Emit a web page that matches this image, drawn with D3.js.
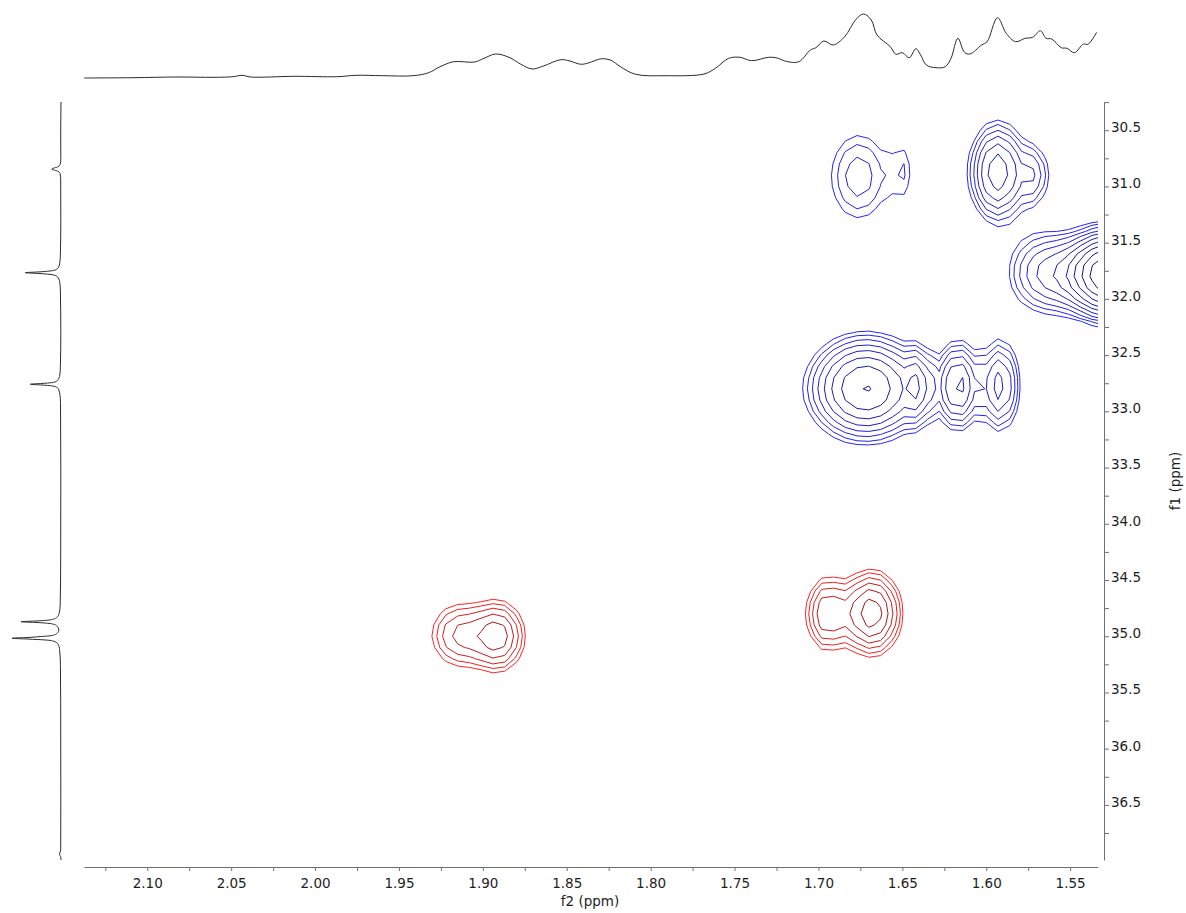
<!DOCTYPE html>
<html>
<head>
<meta charset="utf-8">
<script src="https://cdn.jsdelivr.net/npm/d3@7"></script>
<style>
  body { margin: 0; background: #fff; }
  svg { display: block; }
  text { font-family: "DejaVu Sans", Verdana, sans-serif; fill: #1e1e1e; }
</style>
</head>
<body>
<svg id="chart" width="1186" height="913"></svg>
<script>
// ---- 1H projection (f2 axis, top trace): chemical shift (ppm) and relative intensity
const topProjPpm = [2.1377, 2.1079, 2.0829, 2.0602, 2.0489, 2.0435, 2.0384, 2.0121, 1.9870, 1.9756,
  1.9597, 1.9415, 1.9323, 1.9255, 1.9175, 1.9049, 1.8993, 1.8924, 1.8844, 1.8776, 1.8707, 1.8639,
  1.8536, 1.8481, 1.8411, 1.8302, 1.8282, 1.8236, 1.8180, 1.8090, 1.7909, 1.7682, 1.7614, 1.7535,
  1.7468, 1.7399, 1.7297, 1.7253, 1.7183, 1.7116, 1.7048, 1.7015, 1.6968, 1.6912, 1.6844, 1.6776,
  1.6731, 1.6685, 1.6651, 1.6572, 1.6538, 1.6500, 1.6459, 1.6419, 1.6391, 1.6357, 1.6300, 1.6244,
  1.6210, 1.6169, 1.6130, 1.6097, 1.6028, 1.5995, 1.5933, 1.5881, 1.5825, 1.5768, 1.5723, 1.5677,
  1.5644, 1.5610, 1.5553, 1.5519, 1.5474, 1.5421, 1.5394, 1.5342];
const topProjInt = [0, 0.3, 1.0, 0.7, 1.3, 2.7, 1.0, 1.7, 1.3, 2.7,
  2.3, 2.3, 5.3, 11.3, 16.3, 16.0, 19.7, 24.0, 20.7, 14.0, 9.0, 12.0,
  18.3, 17.0, 13.7, 19.0, 19.3, 17.7, 11.3, 3.7, 2.3, 4.0, 9.7, 19.7,
  20.7, 17.3, 20.7, 20.3, 16.3, 16.3, 28.0, 30.3, 37.0, 33.0, 41.3, 58.7,
  64.0, 58.0, 43.0, 31.3, 23.7, 25.3, 20.3, 29.3, 23.0, 13.0, 10.3, 11.3,
  19.7, 39.7, 25.7, 24.0, 33.0, 36.3, 60.3, 44.7, 36.3, 39.7, 40.7, 47.3,
  39.7, 39.0, 30.3, 29.7, 25.3, 34.0, 33.7, 45.7];

// ---- 13C projection (f1 axis, left trace)
const sideProjPpm = [30.249, 30.50, 30.76, 30.80, 30.825, 30.845, 30.865, 30.89, 30.95, 31.30,
  31.60, 31.68, 31.72, 31.74, 31.752, 31.760, 31.767, 31.774, 31.782, 31.794, 31.815, 31.855, 31.93,
  32.30, 32.60, 32.67, 32.71, 32.733, 32.745, 32.752, 32.759, 32.766, 32.773, 32.785, 32.808, 32.85, 32.92,
  33.50, 34.30, 34.72, 34.80, 34.835, 34.855, 34.864, 34.871, 34.878, 34.887, 34.905, 34.945,
  34.975, 34.995, 35.004, 35.011, 35.018, 35.025, 35.033, 35.045, 35.07, 35.12, 35.25, 35.60,
  36.50, 36.90, 36.94, 36.96, 36.99];
const sideProjInt = [0, 0.3, 0.2, 0.8, 3.0, 9.3, 3.0, 0.8, 0.3, 0.2,
  0.6, 1.2, 2.6, 5.2, 11, 22, 35.7, 22, 11, 5.2, 2.6, 1.2, 0.6,
  0.2, 0.6, 1.1, 2.3, 4.5, 9.5, 19, 30.7, 19, 9.5, 4.5, 2.3, 1.1, 0.5,
  0.2, 0.3, 0.8, 2.0, 4.5, 11, 24, 40, 24, 11, 4.5, 2.2,
  4.0, 10, 22, 33, 49, 33, 16, 7, 3, 1.4, 0.6, 0.3,
  0.2, 0.3, 1.5, 0.4, 0];

// ---- HSQC cross peaks: f2 / f1 position (ppm), signed intensity, line widths (ppm)
const peakF2 = [1.6760, 1.6491, 1.5932, 1.5704, 1.5251, 1.5640,
  1.6789, 1.6645, 1.6398, 1.6167, 1.5918,
  1.8905, 1.9150, 1.6683, 1.6955];
const peakF1 = [30.913, 30.868, 30.874, 30.898, 31.780, 31.770,
  32.794, 32.794, 32.771, 32.770, 32.770,
  35.000, 34.990, 34.794, 34.800];
const peakAmp = [2.0, 1.08, 4.5, 1.9, 15.0, 3.0,
  3.47, 3.47, 2.4, 4.0, 3.2,
  -3.2, -2.25, -4.4, -2.75];
const peakWidthF2 = [0.0137, 0.0060, 0.0101, 0.0060, 0.0145, 0.0149,
  0.0179, 0.0179, 0.0048, 0.0077, 0.0077,
  0.0101, 0.0119, 0.0107, 0.0082];
const peakWidthF1 = [0.310, 0.240, 0.267, 0.196, 0.202, 0.234,
  0.262, 0.262, 0.220, 0.240, 0.267,
  0.204, 0.204, 0.227, 0.222];

// contour levels (absolute intensity); negative levels mirror these
const contourLevels = [1, 1.3, 1.69, 2.197, 2.856, 3.713, 4.827, 6.275, 8.157, 10.60, 13.79, 17.92];

// axis ticks
const f2Ticks = d3.range(0, 24).map(i => +(2.125 - i * 0.025).toFixed(3));
const f2Labels = [2.10, 2.05, 2.00, 1.95, 1.90, 1.85, 1.80, 1.75, 1.70, 1.65, 1.60, 1.55];
const f1Ticks = d3.range(0, 27).map(i => +(30.25 + i * 0.25).toFixed(2));
const f1Labels = [30.5, 31.0, 31.5, 32.0, 32.5, 33.0, 33.5, 34.0, 34.5, 35.0, 35.5, 36.0, 36.5];

// ---- layout
const svg = d3.select("#chart");
const plot = { left: 84, right: 1098, top: 102, bottom: 860 };
const xScale = d3.scaleLinear().domain([2.1377, 1.5334]).range([plot.left, plot.right]);
const yScale = d3.scaleLinear().domain([30.249, 36.99]).range([plot.top, plot.bottom]);
const topIntScale = d3.scaleLinear().domain([0, 64]).range([78, 14]);
const sideIntScale = d3.scaleLinear().domain([0, 50]).range([61, 11]);

svg.append("defs").append("clipPath").attr("id", "plotClip")
  .append("rect")
  .attr("x", plot.left).attr("y", plot.top)
  .attr("width", plot.right - plot.left).attr("height", plot.bottom - plot.top);

// ---- spectrum grid for contouring
const gridF2Start = 2.16, gridStepF2 = 0.007, nF2 = 98;
const gridF1Start = 29.9, gridStepF1 = 0.1, nF1 = 75;
const grid = new Float64Array(nF2 * nF1);
for (let j = 0; j < nF1; j++) {
  const f1 = gridF1Start + j * gridStepF1;
  for (let i = 0; i < nF2; i++) {
    const f2 = gridF2Start - i * gridStepF2;
    let v = 0;
    for (let p = 0; p < peakF2.length; p++) {
      const u = (f2 - peakF2[p]) / peakWidthF2[p];
      const w = (f1 - peakF1[p]) / peakWidthF1[p];
      v += peakAmp[p] * Math.exp(-0.5 * (u * u + w * w));
    }
    grid[j * nF2 + i] = v;
  }
}

const gridProjection = d3.geoTransform({
  point(x, y) {
    this.stream.point(
      xScale(gridF2Start - (x - 0.5) * gridStepF2),
      yScale(gridF1Start + (y - 0.5) * gridStepF1));
  }
});
const contourPath = d3.geoPath(gridProjection);
const contourGen = d3.contours().size([nF2, nF1]).thresholds(contourLevels);

const posContours = contourGen(Array.from(grid));
const negContours = contourGen(Array.from(grid, v => -v));

const blueAt = d3.scaleLinear().domain([0, 9]).range(["#2424ff", "#12127a"]).clamp(true);
const redAt = d3.scaleLinear().domain([0, 5]).range(["#ff2424", "#9a1414"]).clamp(true);

const contourLayer = svg.append("g").attr("clip-path", "url(#plotClip)")
  .attr("fill", "none").attr("stroke-width", 1).attr("stroke-linejoin", "round");

contourLayer.selectAll("path.pos")
  .data(posContours.filter(c => c.coordinates.length))
  .join("path").attr("class", "pos")
  .attr("d", contourPath)
  .attr("stroke", c => blueAt(contourLevels.indexOf(c.value)));

contourLayer.selectAll("path.neg")
  .data(negContours.filter(c => c.coordinates.length))
  .join("path").attr("class", "neg")
  .attr("d", contourPath)
  .attr("stroke", c => redAt(contourLevels.indexOf(c.value)));

// ---- projections
const topLine = d3.line()
  .x(i => xScale(topProjPpm[i]))
  .y(i => topIntScale(topProjInt[i]))
  .curve(d3.curveCatmullRom.alpha(0.5));
svg.append("path")
  .attr("d", topLine(d3.range(topProjPpm.length)))
  .attr("fill", "none").attr("stroke", "#2b2b2b").attr("stroke-width", 1);

const sideLine = d3.line()
  .x(i => sideIntScale(sideProjInt[i]))
  .y(i => yScale(sideProjPpm[i]))
  .curve(d3.curveMonotoneY);
svg.append("path")
  .attr("d", sideLine(d3.range(sideProjPpm.length)))
  .attr("fill", "none").attr("stroke", "#2b2b2b").attr("stroke-width", 1);

// ---- axes
const labelSet2 = new Set(f2Labels.map(v => v.toFixed(2)));
const xAxis = d3.axisBottom(xScale)
  .tickValues(f2Ticks)
  .tickSize(4).tickSizeOuter(0).tickPadding(7)
  .tickFormat(d => labelSet2.has(d.toFixed(2)) ? d.toFixed(2) : "");
const gx = svg.append("g").attr("transform", "translate(0,867)").call(xAxis);

const labelSet1 = new Set(f1Labels.map(v => v.toFixed(1)));
const yAxis = d3.axisRight(yScale)
  .tickValues(f1Ticks)
  .tickSize(5).tickSizeOuter(0).tickPadding(2)
  .tickFormat(d => Math.abs(d * 2 - Math.round(d * 2)) < 1e-6 && labelSet1.has(d.toFixed(1)) ? d.toFixed(1) : "");
const gy = svg.append("g").attr("transform", "translate(1104,0)").call(yAxis);

[gx, gy].forEach(g => {
  g.select(".domain").attr("stroke", "#707070");
  g.selectAll(".tick line").attr("stroke", "#707070");
  g.selectAll(".tick text")
    .attr("fill", "#1e1e1e")
    .style("font-family", "'DejaVu Sans', Verdana, sans-serif")
    .style("font-size", "13.5px");
});
gy.selectAll(".tick text").attr("dy", "0.1em");

svg.append("text")
  .attr("x", 590).attr("y", 906)
  .attr("text-anchor", "middle")
  .style("font-size", "13.5px")
  .text("f2 (ppm)");

svg.append("text")
  .attr("transform", "translate(1180,481) rotate(-90)")
  .attr("text-anchor", "middle")
  .style("font-size", "13.5px")
  .text("f1 (ppm)");
</script>
</body>
</html>
